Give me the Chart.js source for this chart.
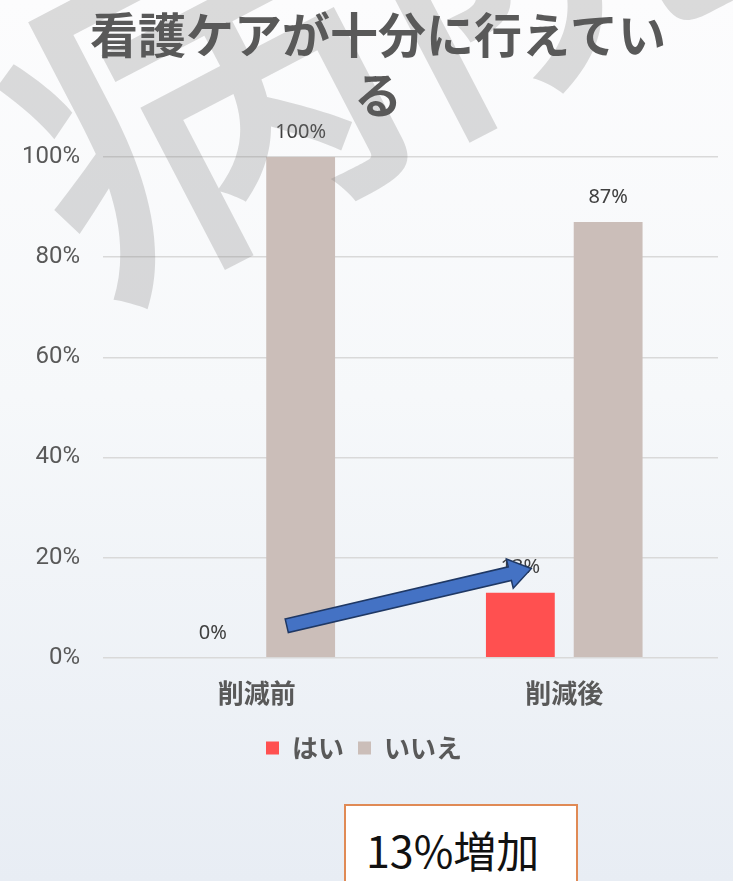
<!DOCTYPE html>
<html>
<head>
<meta charset="utf-8">
<script src="https://cdn.jsdelivr.net/npm/chart.js@4"></script>
<style>
  html, body { margin: 0; padding: 0; overflow: hidden; }
  body {
    width: 733px; height: 881px; position: relative;
    background: linear-gradient(to bottom, #FCFCFD 0%, #F6F8FA 45%, #E8EDF4 100%);
  }
  #wrap { position: absolute; left: 0; top: 0; width: 733px; height: 881px; }
  #note {
    position: absolute; left: 344px; top: 804px; width: 234px; height: 100px;
    background: #fff; border: 2px solid #E08A55; box-sizing: border-box;
    font-family: 'Noto Sans CJK JP', sans-serif; font-size: 43px; color: #111;
    padding-left: 20px; line-height: 86px;
  }
</style>
</head>
<body>
<div id="wrap"><canvas id="chart" width="733" height="881"></canvas></div>
<div id="note">13%増加</div>
<script>
// chart data
const categories = ['削減前', '削減後'];
const yesValues  = [0, 13];
const noValues   = [100, 87];
const seriesNames = ['はい', 'いいえ'];
const titleLines = ['看護ケアが十分に行えてい', 'る'];

// colours
const RED   = '#FF5050';
const TAUPE = '#CBBEB9';
const GRID  = '#D9D9D9';
const LABEL = '#595959';

// value labels above every bar
const valueLabels = {
    id: 'valueLabels',
    afterDatasetsDraw(chart) {
        const ctx = chart.ctx;
        ctx.save();
        ctx.font = '20px "Noto Sans", sans-serif';
        ctx.fillStyle = '#404040';
        ctx.textAlign = 'center';
        ctx.textBaseline = 'middle';
        chart.data.datasets.forEach((ds, i) => {
            chart.getDatasetMeta(i).data.forEach((bar, j) => {
                ctx.fillText(ds.data[j] + '%', bar.x, bar.y - 25);
            });
        });
        ctx.restore();
    }
};

// blue arrow from before to after, anchored on the scales
const arrow = {
    id: 'arrow',
    afterDatasetsDraw(chart) {
        const x = chart.scales.x, y = chart.scales.y;
        const x0 = x.getPixelForValue(0) + 30, y0 = y.getPixelForValue(6.4);
        const x1 = x.getPixelForValue(1) - 33, y1 = y.getPixelForValue(17.8);
        const ang = Math.atan2(y1 - y0, x1 - x0);
        const len = Math.hypot(x1 - x0, y1 - y0);
        const shaft = 7, head = 15, headLen = 22;
        const ctx = chart.ctx;
        ctx.save();
        ctx.translate(x0, y0);
        ctx.rotate(ang);
        ctx.beginPath();
        ctx.moveTo(0, -shaft);
        ctx.lineTo(len - headLen, -shaft);
        ctx.lineTo(len - headLen, -head);
        ctx.lineTo(len, 0);
        ctx.lineTo(len - headLen, head);
        ctx.lineTo(len - headLen, shaft);
        ctx.lineTo(0, shaft);
        ctx.closePath();
        ctx.fillStyle = '#4472C4';
        ctx.fill();
        ctx.strokeStyle = '#1F3864';
        ctx.lineWidth = 1.5;
        ctx.stroke();
        ctx.restore();
    }
};

// faint watermark text in the background
const watermark = {
    id: 'watermark',
    afterDatasetsDraw(chart) {
        const ctx = chart.ctx;
        ctx.save();
        ctx.translate(25, 175);
        ctx.rotate(-0.48);
        ctx.font = '500 380px "Noto Sans CJK JP", sans-serif';
        ctx.fillStyle = 'rgba(128,128,128,0.28)';
        ctx.textAlign = 'left';
        ctx.textBaseline = 'middle';
        ctx.fillText('病院', 0, 0);
        ctx.restore();
    }
};

// title drawn on top, slightly right of centre like the original
const titleText = {
    id: 'titleText',
    afterDraw(chart) {
        const ctx = chart.ctx;
        ctx.save();
        ctx.font = 'bold 48px "Noto Sans CJK JP", sans-serif';
        ctx.fillStyle = LABEL;
        ctx.textAlign = 'center';
        ctx.textBaseline = 'middle';
        titleLines.forEach((line, i) => ctx.fillText(line, 378, 35 + i * 60));
        ctx.restore();
    }
};

new Chart(document.getElementById('chart'), {
    type: 'bar',
    data: {
        labels: categories,
        datasets: [
            { label: seriesNames[0], data: yesValues, backgroundColor: RED },
            { label: seriesNames[1], data: noValues, backgroundColor: TAUPE }
        ]
    },
    options: {
        responsive: false,
        animation: false,
        categoryPercentage: 0.571,
        barPercentage: 0.784,
        layout: { padding: { top: 157, left: 10, right: 15, bottom: 110 } },
        plugins: {
            legend: {
                position: 'bottom',
                labels: {
                    color: LABEL,
                    boxWidth: 13,
                    boxHeight: 13,
                    padding: 14,
                    font: { family: '"Noto Sans CJK JP", sans-serif', size: 26, weight: 'bold' }
                }
            },
            tooltip: { enabled: false }
        },
        scales: {
            x: {
                grid: { display: false },
                border: { display: false },
                ticks: {
                    color: LABEL,
                    padding: 12,
                    font: { family: '"Noto Sans CJK JP", sans-serif', size: 26, weight: 'bold' }
                }
            },
            y: {
                min: 0,
                max: 100,
                afterFit: s => { s.width = 93; },
                grid: { color: GRID, lineWidth: 1.5, drawTicks: false },
                border: { display: false },
                ticks: {
                    stepSize: 20,
                    padding: 23,
                    color: LABEL,
                    font: { family: 'Roboto, sans-serif', size: 24 },
                    callback: v => v + '%'
                }
            }
        }
    },
    plugins: [valueLabels, arrow, watermark, titleText]
});
</script>
</body>
</html>
